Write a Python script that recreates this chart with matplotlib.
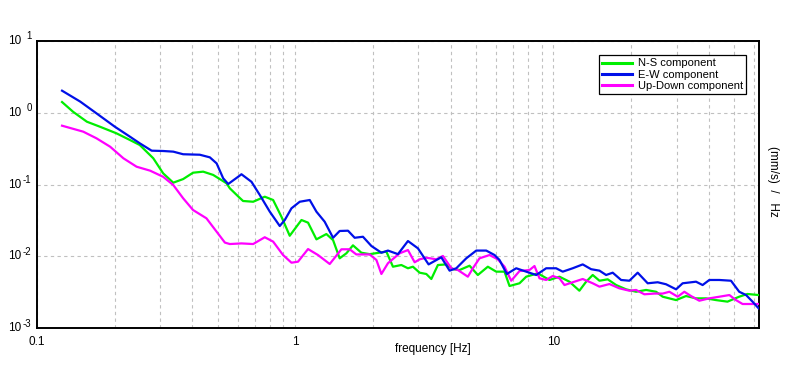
import matplotlib
matplotlib.use('Agg')
import matplotlib.pyplot as plt
import matplotlib.transforms as mtransforms
from matplotlib.ticker import LogLocator, NullFormatter, FixedLocator

plt.rcParams['font.family'] = ['Liberation Sans', 'DejaVu Sans']

# N-S component (green)
ns_freq = [0.125, 0.138, 0.156, 0.175, 0.203, 0.229, 0.250, 0.282, 0.308, 0.337, 0.368, 0.402,
           0.440, 0.481, 0.542, 0.558, 0.606, 0.628, 0.687, 0.762, 0.821, 0.884, 0.952, 1.057,
           1.121, 1.208, 1.320, 1.401, 1.486, 1.578, 1.673, 1.803, 1.942, 2.254, 2.390, 2.576,
           2.732, 2.856, 3.032, 3.218, 3.365, 3.568, 3.846, 4.079, 4.329, 4.732, 5.095, 5.570,
           6.003, 6.463, 6.758, 7.388, 7.842, 8.696, 9.650, 10.55, 11.53, 12.60, 13.38, 14.19,
           15.07, 16.22, 17.49, 19.11, 20.89, 22.84, 24.97, 26.48, 29.84, 32.61, 35.65, 38.97,
           42.6, 47.2, 52.4, 56.4, 62.3]
ns_val = [1.41, 1.03, 0.75, 0.64, 0.517, 0.417, 0.355, 0.232, 0.143, 0.106, 0.119, 0.146,
          0.151, 0.136, 0.104, 0.0885, 0.0664, 0.0589, 0.0575, 0.0676, 0.0608, 0.0356, 0.0193, 0.0320,
          0.0294, 0.0172, 0.0204, 0.0168, 0.00936, 0.0110, 0.0142, 0.0112, 0.0107, 0.0116, 0.00715, 0.00755,
          0.0068, 0.00715, 0.0059, 0.00566, 0.00482, 0.00755, 0.0077, 0.0066, 0.00643, 0.00738, 0.00548, 0.00715,
          0.0061, 0.0061, 0.00385, 0.0042, 0.00519, 0.00578, 0.00467, 0.00519, 0.00442, 0.00331, 0.00442, 0.00548,
          0.00456, 0.00477, 0.00397, 0.00346, 0.0032, 0.00339, 0.0032, 0.00273, 0.00245, 0.00279, 0.00259, 0.00259,
          0.00245, 0.00233, 0.00273, 0.00298, 0.00288]

# E-W component (blue)
ew_freq = [0.125, 0.147, 0.170, 0.200, 0.229, 0.250, 0.278, 0.308, 0.337, 0.368, 0.427, 0.467,
           0.496, 0.526, 0.550, 0.606, 0.619, 0.677, 0.729, 0.797, 0.871, 0.911, 0.967, 1.041,
           1.138, 1.208, 1.300, 1.401, 1.486, 1.601, 1.699, 1.829, 1.972, 2.156, 2.286, 2.499,
           2.732, 2.986, 3.284, 3.678, 3.961, 4.204, 4.595, 5.023, 5.491, 5.913, 6.182, 6.597,
           7.174, 7.842, 8.573, 9.371, 10.24, 10.86, 11.87, 12.98, 13.99, 15.07, 15.99, 16.96,
           18.28, 19.68, 21.19, 23.17, 25.33, 27.29, 29.84, 31.64, 35.65, 37.81, 40.13, 43.9,
           48.7, 52.4, 55.7, 59.0, 62.3]
ew_val = [2.03, 1.43, 0.98, 0.64, 0.464, 0.375, 0.296, 0.293, 0.287, 0.264, 0.260, 0.239,
          0.197, 0.122, 0.1016, 0.131, 0.139, 0.109, 0.0714, 0.0418, 0.0264, 0.0320, 0.0466, 0.0575,
          0.0608, 0.0418, 0.0303, 0.0181, 0.0225, 0.0227, 0.0181, 0.0187, 0.0139, 0.0112, 0.0120, 0.0107,
          0.0163, 0.0129, 0.0077, 0.00967, 0.0063, 0.0068, 0.00936, 0.0120, 0.0120, 0.0104, 0.00887, 0.00566,
          0.0068, 0.0061, 0.00548, 0.0068, 0.0068, 0.0061, 0.0068, 0.0077, 0.0066, 0.0063, 0.00548, 0.0059,
          0.00467, 0.00456, 0.0059, 0.0042, 0.00434, 0.00407, 0.00346, 0.0042, 0.00442, 0.00397, 0.00467, 0.00467,
          0.00456, 0.0032, 0.00288, 0.00233, 0.00188]

# Up-Down component (magenta)
ud_freq = [0.125, 0.151, 0.170, 0.192, 0.216, 0.243, 0.274, 0.308, 0.337, 0.368, 0.402, 0.453,
           0.496, 0.534, 0.558, 0.619, 0.687, 0.762, 0.821, 0.897, 0.967, 1.025, 1.121, 1.225,
           1.360, 1.509, 1.625, 1.724, 1.942, 2.062, 2.156, 2.286, 2.537, 2.732, 2.900, 3.032,
           3.218, 3.518, 3.731, 4.021, 4.264, 4.661, 4.874, 5.171, 5.655, 6.089, 6.463, 6.861,
           7.388, 8.076, 8.443, 8.828, 9.371, 9.94, 10.55, 11.03, 11.87, 12.98, 14.19, 15.07,
           16.47, 18.00, 19.68, 20.89, 22.49, 24.59, 26.48, 28.11, 30.27, 32.12, 34.09, 36.71,
           40.13, 43.9, 48.0, 50.9, 54.0, 59.0, 62.3]
ud_val = [0.660, 0.545, 0.440, 0.336, 0.232, 0.177, 0.156, 0.128, 0.0984, 0.0643, 0.0441, 0.0338,
          0.0220, 0.0155, 0.0148, 0.0151, 0.0148, 0.0184, 0.0160, 0.0104, 0.00813, 0.0084, 0.0126, 0.0104,
          0.0078, 0.0125, 0.0125, 0.0106, 0.0106, 0.00887, 0.00566, 0.0080, 0.0110, 0.0122, 0.00824, 0.00906,
          0.00955, 0.00906, 0.0101, 0.0068, 0.00643, 0.00519, 0.0068, 0.00936, 0.0104, 0.00906, 0.00715, 0.00456,
          0.00622, 0.00643, 0.00731, 0.00493, 0.00467, 0.00531, 0.00493, 0.00397, 0.00434, 0.00482, 0.0042, 0.00377,
          0.0041, 0.00357, 0.00331, 0.00339, 0.00295, 0.00302, 0.00302, 0.0032, 0.00273, 0.0032, 0.00279, 0.0024,
          0.00259, 0.00273, 0.00288, 0.00245, 0.00216, 0.00216, 0.00216]

y_ticks = [1e-3, 1e-2, 1e-1, 1e0, 1e1]
y_exponents = ['-3', '-2', '-1', '0', '1']
x_ticks = [0.1, 1, 10]
x_tick_labels = ['0.1', '1', '10']

fig = plt.figure(figsize=(7.96, 3.70), dpi=100)
ax = fig.add_axes([0.0465, 0.1135, 0.907, 0.7757])

ax.plot(ns_freq, ns_val, color='#00ee00', lw=1.6, label='N-S component', zorder=3)
ax.plot(ew_freq, ew_val, color='#0010e8', lw=1.6, label='E-W component', zorder=4)
ax.plot(ud_freq, ud_val, color='#ff00ff', lw=1.6, label='Up-Down component', zorder=3)

ax.set_xscale('log')
ax.set_yscale('log')
ax.set_xlim(0.1, 62.5)
ax.set_ylim(1e-3, 10)

ax.xaxis.set_major_locator(FixedLocator(x_ticks))
ax.set_xticklabels(x_tick_labels)
ax.xaxis.set_minor_locator(LogLocator(base=10, subs=range(2, 10)))
ax.xaxis.set_minor_formatter(NullFormatter())
ax.yaxis.set_major_locator(FixedLocator(y_ticks))
ax.set_yticklabels([''] * len(y_ticks))
ax.yaxis.set_minor_locator(FixedLocator([]))
ax.tick_params(axis='both', which='both', length=0, labelsize=8.5, colors='black')
ax.tick_params(axis='x', pad=6)

# y tick labels drawn as "10", a gap, then a raised exponent
trans = mtransforms.blended_transform_factory(ax.transAxes, ax.transData)
for val, ex in zip(y_ticks, y_exponents):
    ax.text(0, val, '10', fontsize=8.5, ha='right', va='center', clip_on=False,
            transform=trans + mtransforms.ScaledTranslation(-0.16, 0, fig.dpi_scale_trans))
    ax.text(0, val, ex, fontsize=7, ha='right', va='center', clip_on=False,
            transform=trans + mtransforms.ScaledTranslation(-0.055, 0.045, fig.dpi_scale_trans))

ax.grid(True, which='major', axis='y', color='#c0c0c0', linestyle=(0, (3, 3)), lw=0.8)
ax.grid(True, which='both', axis='x', color='#c0c0c0', linestyle=(0, (3, 3)), lw=0.8)
for s in ax.spines.values():
    s.set_linewidth(1.4)
    s.set_color('black')

fig.text(433 / 796, 1 - 349 / 370, 'frequency [Hz]', fontsize=8.5, ha='center', va='center')
fig.text(0.971, 0.51, '(mm/s)  /   Hz', rotation=-90, fontsize=8.5, ha='center', va='center')

leg = ax.legend(loc='upper right', bbox_to_anchor=(0.982, 0.951), fontsize=8, frameon=True,
                fancybox=False, edgecolor='black', framealpha=1, borderpad=0.3, labelspacing=0.1,
                handlelength=2.7, handletextpad=0.5, borderaxespad=0)
leg.get_frame().set_linewidth(0.9)
for line in leg.get_lines():
    line.set_linewidth(2.2)

fig.savefig('out.png', dpi=100)
